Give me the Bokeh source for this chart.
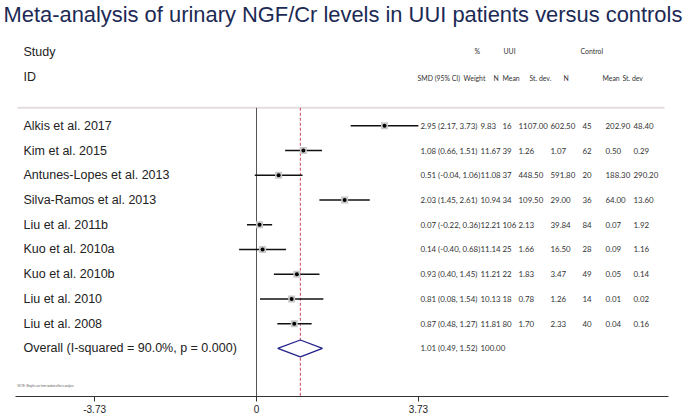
from bokeh.plotting import figure
from bokeh.models import Range1d, LinearAxis, FixedTicker, ColumnDataSource
from bokeh.core.properties import value
from bokeh.embed import file_html
from bokeh.resources import INLINE

# ---------------- data ----------------
title = "Meta-analysis of urinary NGF/Cr levels in UUI patients versus controls"
studies = ["Alkis et al. 2017", "Kim et al. 2015", "Antunes-Lopes et al. 2013",
           "Silva-Ramos et al. 2013", "Liu et al. 2011b", "Kuo et al. 2010a",
           "Kuo et al. 2010b", "Liu et al. 2010", "Liu et al. 2008"]
smd = [2.95, 1.08, 0.51, 2.03, 0.07, 0.14, 0.93, 0.81, 0.87]
ci_lo = [2.17, 0.66, -0.04, 1.45, -0.22, -0.40, 0.40, 0.08, 0.48]
ci_hi = [3.73, 1.51, 1.06, 2.61, 0.36, 0.68, 1.45, 1.54, 1.27]
weight = ["9.83", "11.67", "11.08", "10.94", "12.21", "11.14", "11.21", "10.13", "11.81"]
uui_n = ["16", "39", "37", "34", "106", "25", "22", "18", "80"]
uui_mean = ["1107.00", "1.26", "448.50", "109.50", "2.13", "1.66", "1.83", "0.78", "1.70"]
uui_sd = ["602.50", "1.07", "591.80", "29.00", "39.84", "16.50", "3.47", "1.26", "2.33"]
ctl_n = ["45", "62", "20", "36", "84", "28", "49", "14", "40"]
ctl_mean = ["202.90", "0.50", "188.30", "64.00", "0.07", "0.09", "0.05", "0.01", "0.04"]
ctl_sd = ["48.40", "0.29", "290.20", "13.60", "1.92", "1.16", "0.14", "0.02", "0.16"]
overall_label = "Overall  (I-squared = 90.0%, p = 0.000)"
overall_est, overall_lo, overall_hi = 1.01, 0.49, 1.52
overall_weight = "100.00"
header_top = ["%", "UUI", "Control"]
header_bottom = ["SMD (95% CI)", "Weight", "N", "Mean", "St. dev.", "N", "Mean", "St. dev"]
tick_vals = [-3.73, 0, 3.73]
tick_labels = ["-3.73", "0", "3.73"]
note = "NOTE: Weights are from random effects analysis"

# ---------------- layout ----------------
W, H = 683, 415
AXIS_PANEL = 20
FRAME_H = H - AXIS_PANEL
PX_X = 43.4          # pixels per SMD unit
ZERO_PX = 256        # x of 0 inside the frame
PX_Y = 24.67         # pixels per row
ROW0_PX = 125        # y of first row inside the frame
x_left = -ZERO_PX / PX_X
x_right = (W - ZERO_PX) / PX_X
y_top = -ROW0_PX / PX_Y
y_bot = y_top + FRAME_H / PX_Y

def xp(px):  # pixel column -> data x
    return (px - ZERO_PX) / PX_X

def yp(py):  # pixel row -> data y
    return (py - ROW0_PX) / PX_Y

p = figure(width=W, height=H, output_backend="svg", toolbar_location=None,
           x_axis_location=None, y_axis_location=None,
           x_range=Range1d(x_left, x_right), y_range=Range1d(y_bot, y_top),
           min_border_left=0, min_border_right=0, min_border_top=0, min_border_bottom=0,
           background_fill_color="white", border_fill_color="white")
p.outline_line_color = None
p.grid.visible = False

n = len(studies)
rows = list(range(n))
LABEL_FONT = value("Liberation Sans")
SMALL_FONT = value("Lato")

# title
p.text(x=[xp(3)], y=[yp(14)], text=[title], text_font=LABEL_FONT,
       text_font_size="21.9px", text_color="#1c2a55", text_baseline="middle")

# header
p.text(x=[xp(23)], y=[yp(51)], text=["Study"], text_font=LABEL_FONT, text_font_size="12.5px",
       text_color="#222222", text_baseline="middle")
p.text(x=[xp(23)], y=[yp(76)], text=["ID"], text_font=LABEL_FONT, text_font_size="12.5px",
       text_color="#222222", text_baseline="middle")
p.text(x=[xp(474), xp(503), xp(580)], y=[yp(50)] * 3, text=header_top, text_font=SMALL_FONT,
       text_font_size="6.9px", text_color="#333333", text_baseline="middle")
hb_x = [xp(v) for v in [417, 463, 493, 502, 529, 563, 602, 622]]
p.text(x=hb_x, y=[yp(77)] * len(header_bottom), text=header_bottom, text_font=SMALL_FONT,
       text_font_size="6.9px", text_color="#333333", text_baseline="middle")

# separator line under header
p.segment(x0=[xp(17)], y0=[yp(107)], x1=[xp(664)], y1=[yp(107)], line_color="#e3dddd", line_width=2)

# null line and overall line
p.segment(x0=[0], y0=[yp(107)], x1=[0], y1=[y_bot], line_color="#555555", line_width=1)
p.segment(x0=[overall_est], y0=[yp(107)], x1=[overall_est], y1=[y_bot],
          line_color="#d0415f", line_width=1, line_dash="3 2")

src = ColumnDataSource(dict(y=rows, smd=smd, lo=ci_lo, hi=ci_hi, study=studies,
                            ci=["%.2f (%.2f, %.2f)" % (a, b, c) for a, b, c in zip(smd, ci_lo, ci_hi)],
                            w=weight, n1=uui_n, m1=uui_mean, s1=uui_sd,
                            n2=ctl_n, m2=ctl_mean, s2=ctl_sd))

# CIs, boxes, points
p.segment(x0="lo", y0="y", x1="hi", y1="y", source=src, line_color="#111111", line_width=1.4)
p.scatter(x="smd", y="y", source=src, marker="square", size=7, fill_color="#c8c8c8",
          line_color=None)
p.scatter(x="smd", y="y", source=src, marker="circle", size=4, fill_color="#000000",
          line_color=None)

# diamond
p.patch(x=[overall_lo, overall_est, overall_hi, overall_est, overall_lo],
        y=[n, n - 0.34, n, n + 0.34, n], fill_color="white", line_color="#22228a", line_width=1.3)

# study labels
p.text(x=xp(23), y="y", text="study", source=src, text_font=LABEL_FONT, text_font_size="12.5px",
       text_color="#222222", text_baseline="middle")
p.text(x=[xp(23)], y=[n], text=[overall_label], text_font=LABEL_FONT, text_font_size="12.5px",
       text_color="#222222", text_baseline="middle")

# right-hand table
cols = [("ci", 420), ("w", 480), ("n1", 502), ("m1", 518), ("s1", 550),
        ("n2", 582), ("m2", 605), ("s2", 633)]
for field, px in cols:
    p.text(x=xp(px), y="y", text=field, source=src, text_font=SMALL_FONT,
           text_font_size="7.9px", text_color="#333333", text_baseline="middle")
p.text(x=[xp(420), xp(480)], y=[n, n],
       text=["%.2f (%.2f, %.2f)" % (overall_est, overall_lo, overall_hi), overall_weight],
       text_font=SMALL_FONT, text_font_size="7.9px", text_color="#333333", text_baseline="middle")

# footnote
p.text(x=[xp(17)], y=[yp(385)], text=[note], text_font=LABEL_FONT, text_font_size="2.6px",
       text_color="#555555", text_baseline="middle")

# x axis
ax = LinearAxis(ticker=FixedTicker(ticks=tick_vals),
                major_label_overrides=dict(zip(tick_vals, tick_labels)))
ax.bounds = (xp(15), xp(668))
ax.axis_line_color = "#333333"
ax.axis_line_width = 1.2
ax.major_tick_line_color = "#333333"
ax.major_tick_out = 5
ax.major_tick_in = 0
ax.minor_tick_line_color = None
ax.major_label_standoff = 3
ax.major_label_text_font = "Liberation Sans"
ax.major_label_text_font_size = "10px"
ax.major_label_text_color = "#222222"
p.add_layout(ax, "below")

open("out.html", "w").write(file_html(p, INLINE))
